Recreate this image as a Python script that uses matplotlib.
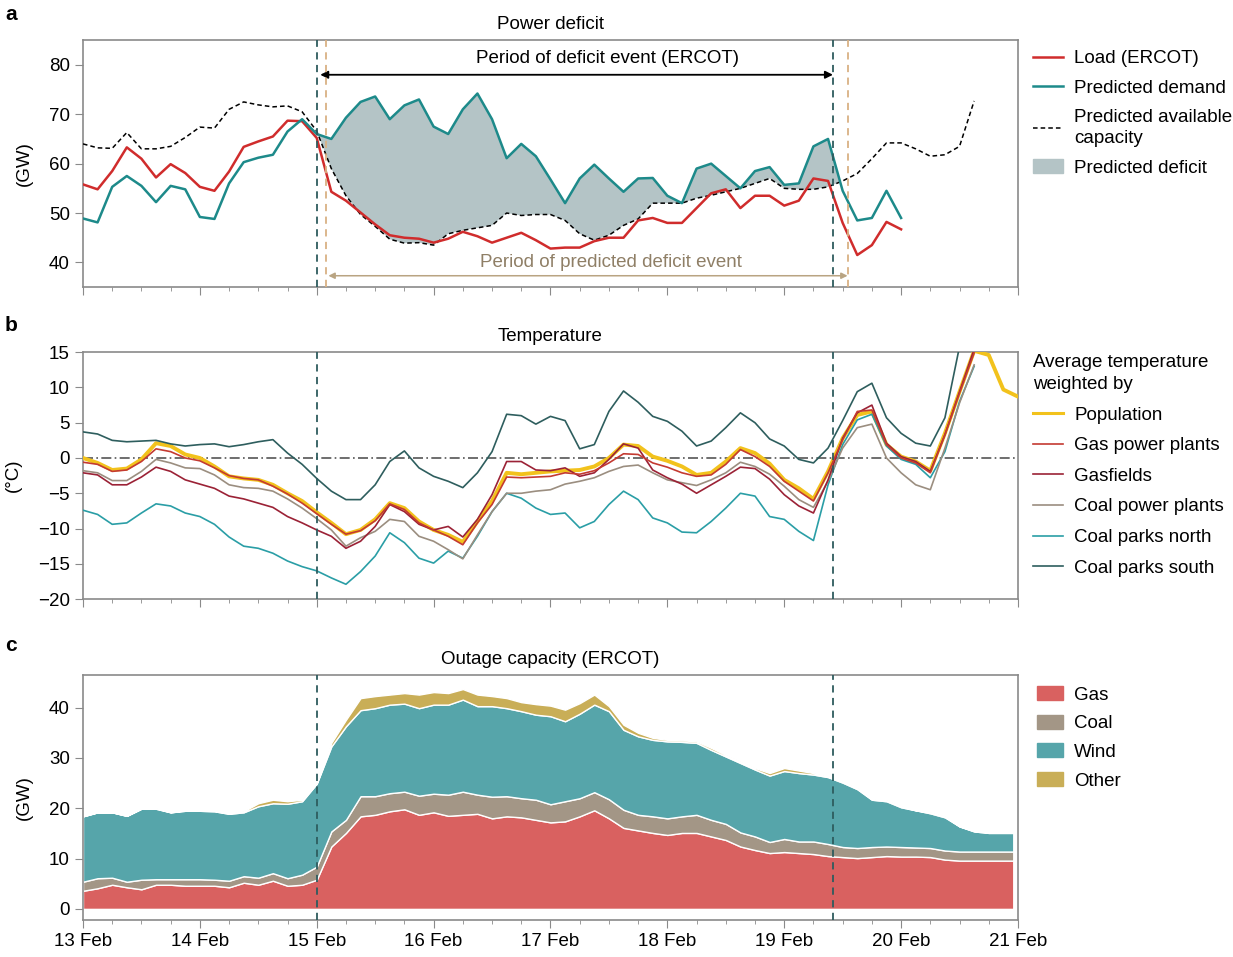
import numpy as np
import matplotlib.pyplot as plt
from matplotlib.lines import Line2D
from matplotlib.patches import Patch

plt.rcParams['font.family'] = ['Liberation Sans', 'DejaVu Sans']
plt.rcParams['font.size'] = 13.5
FS = 13.5

# time axis in days since 13 Feb 00:00, 3-hourly samples
day_labels = ['13 Feb', '14 Feb', '15 Feb', '16 Feb', '17 Feb', '18 Feb', '19 Feb', '20 Feb', '21 Feb']

# ---- panel a: power deficit (GW) ----
load = [55.8, 54.8, 58.5, 63.3, 61.0, 57.2, 59.9, 58.1, 55.3, 54.5,
        58.4, 63.4, 64.5, 65.5, 68.7, 68.6, 65.2, 54.3, 52.5, 50.1,
        47.7, 45.5, 45.0, 44.8, 44.0, 44.8, 46.2, 45.3, 44.0, 45.0,
        46.0, 44.5, 42.8, 43.0, 43.0, 44.3, 45.0, 45.0, 48.5, 49.0,
        48.0, 48.0, 51.0, 54.0, 54.8, 51.0, 53.5, 53.5, 51.5, 52.5,
        57.0, 56.5, 48.0, 41.5, 43.5, 48.2, 46.7]
demand = [48.9, 48.1, 55.3, 57.5, 55.5, 52.2, 55.5, 54.8, 49.2, 48.8,
          56.0, 60.3, 61.2, 61.8, 66.5, 69.0, 66.0, 65.0, 69.3, 72.5,
          73.6, 69.0, 71.8, 73.0, 67.5, 66.0, 71.0, 74.2, 69.0, 61.1,
          64.0, 61.5, 56.8, 52.0, 57.0, 59.8, 57.0, 54.3, 57.0, 57.1,
          53.5, 52.0, 59.0, 60.0, 57.5, 55.0, 58.5, 59.3, 55.7, 56.0,
          63.5, 65.0, 54.5, 48.5, 49.0, 54.5, 49.0]
capacity = [64.0, 63.2, 63.1, 66.3, 63.0, 63.0, 63.5, 65.3, 67.4, 67.2,
            71.0, 72.5, 71.9, 71.5, 71.7, 70.5, 66.6, 59.0, 53.5, 49.7,
            47.3, 44.7, 43.9, 44.0, 43.5, 45.8, 46.5, 47.0, 47.5, 50.0,
            49.5, 49.7, 49.7, 48.5, 45.8, 44.5, 45.5, 47.5, 48.8, 52.0,
            52.0, 52.0, 53.0, 53.6, 54.3, 55.0, 56.0, 57.0, 55.0, 54.8,
            54.8, 55.3, 56.5, 58.0, 61.0, 64.2, 64.2, 63.0, 61.5, 61.8,
            63.5, 72.7]

# event markers (days)
ercot_event = [2.0, 6.417]
pred_event = [2.083, 6.542]

# ---- panel b: temperature (deg C) ----
population = [0.0, -0.7, -1.7, -1.5, -0.2, 2.1, 1.7, 0.5, 0.0, -1.2,
              -2.6, -2.9, -3.1, -3.8, -5.0, -6.1, -7.7, -9.2, -10.8, -10.2,
              -8.7, -6.4, -7.1, -9.0, -10.2, -10.9, -11.9, -9.0, -6.1, -2.1,
              -2.3, -2.1, -1.9, -1.8, -1.7, -1.2, 0.0, 1.9, 1.7, 0.2,
              -0.4, -1.2, -2.4, -2.1, -0.5, 1.4, 0.7, -0.8, -3.1, -4.3,
              -5.8, -1.9, 2.8, 6.1, 6.6, 1.9, 0.2, -0.5, -1.8, 3.5,
              9.4, 15.2, 14.6, 9.7, 8.7]
gas_plants = [-0.6, -0.9, -1.9, -1.7, -0.5, 1.3, 0.9, 0.0, -0.4, -1.4,
              -2.5, -2.9, -3.1, -4.0, -5.1, -6.4, -7.9, -9.4, -10.8, -10.3,
              -8.9, -6.5, -7.3, -9.2, -10.2, -11.1, -12.3, -9.2, -6.6, -2.7,
              -2.8, -2.7, -2.6, -2.1, -2.3, -1.8, -0.7, 0.6, 0.5, -0.7,
              -1.3, -2.1, -2.6, -2.4, -0.9, 1.2, 0.2, -1.2, -3.3, -4.7,
              -6.1, -2.1, 2.6, 6.6, 6.8, 1.9, 0.0, -0.7, -2.1, 3.3,
              9.2, 14.9]
gasfields = [-2.1, -2.4, -3.8, -3.8, -2.7, -1.3, -1.9, -3.1, -3.7, -4.3,
             -5.4, -5.8, -6.4, -7.0, -8.3, -9.2, -10.2, -11.1, -12.8, -11.8,
             -9.7, -6.6, -7.6, -9.4, -10.2, -9.7, -11.2, -8.7, -5.2, -0.5,
             -0.5, -1.7, -1.8, -1.4, -2.6, -2.1, -0.2, 2.0, 1.4, -1.7,
             -2.8, -3.7, -5.0, -3.8, -2.6, -1.3, -1.5, -3.0, -5.2, -6.8,
             -7.8, -3.1, 2.8, 6.4, 7.5, 2.1, 0.2, -0.5, -1.9, 3.3,
             9.4, 15.4]
coal_plants = [-1.8, -2.1, -3.2, -3.2, -1.9, -0.2, -0.7, -1.4, -1.5, -2.4,
               -3.8, -4.2, -4.3, -4.7, -5.8, -7.1, -8.6, -10.2, -12.5, -11.3,
               -10.4, -8.7, -9.0, -11.1, -11.8, -13.0, -14.3, -10.9, -7.6, -5.0,
               -5.0, -4.7, -4.5, -3.7, -3.3, -2.8, -1.9, -1.2, -1.0, -2.1,
               -3.1, -3.5, -3.9, -3.1, -2.1, -0.6, -1.2, -2.3, -4.0, -5.9,
               -7.0, -3.3, 1.4, 4.3, 4.8, 0.0, -2.1, -3.8, -4.5, 1.4,
               7.8, 13.2]
parks_north = [-7.4, -8.0, -9.4, -9.2, -7.8, -6.5, -6.8, -7.8, -8.3, -9.4,
               -11.2, -12.5, -12.8, -13.5, -14.6, -15.4, -16.0, -17.0, -17.9, -16.1,
               -13.9, -10.6, -12.0, -14.2, -14.9, -13.2, -14.2, -11.1, -7.6, -5.0,
               -5.7, -7.1, -8.0, -7.8, -9.9, -9.0, -6.6, -4.7, -5.9, -8.5,
               -9.2, -10.5, -10.6, -9.0, -7.1, -5.0, -5.4, -8.3, -8.7, -10.4,
               -11.7, -3.8, 1.9, 5.4, 6.2, 1.7, -0.2, -0.9, -2.8, 0.9,
               8.0, 13.0]
parks_south = [3.7, 3.4, 2.5, 2.3, 2.4, 2.5, 2.0, 1.7, 1.9, 2.0,
               1.6, 1.9, 2.3, 2.6, 0.7, -0.9, -2.9, -4.7, -5.9, -5.9,
               -3.8, -0.5, 1.0, -1.4, -2.6, -3.3, -4.2, -2.1, 0.9, 6.2,
               6.0, 4.8, 5.9, 5.3, 1.3, 1.9, 6.6, 9.5, 7.9, 5.9,
               5.2, 3.8, 1.7, 2.4, 4.3, 6.4, 5.0, 2.7, 1.7, -0.2,
               -0.7, 1.4, 5.3, 9.4, 10.6, 5.7, 3.5, 2.1, 1.7, 5.7,
               15.8, 19.0]

# ---- panel c: outage capacity (GW), stacked layers ----
out_gas = [3.6, 4.1, 4.8, 4.3, 3.9, 4.8, 4.8, 4.6, 4.6, 4.6,
           4.3, 5.2, 4.8, 5.6, 4.6, 4.8, 5.8, 12.4, 15.1, 18.4,
           18.7, 19.4, 19.8, 18.7, 19.2, 18.5, 18.7, 18.9, 18.0, 18.4,
           18.2, 17.7, 17.2, 17.4, 18.4, 19.6, 18.0, 16.1, 15.6, 15.1,
           14.7, 15.1, 15.1, 14.4, 13.7, 12.4, 11.7, 11.1, 11.3, 11.1,
           10.9, 10.5, 10.3, 10.1, 10.3, 10.5, 10.4, 10.4, 10.3, 9.8,
           9.6, 9.6, 9.6, 9.6, 9.6]
out_coal = [1.8, 2.0, 1.4, 1.1, 1.9, 1.1, 1.1, 1.3, 1.3, 1.2,
            1.3, 1.3, 1.4, 1.5, 1.5, 2.0, 2.6, 3.0, 2.6, 4.0,
            3.7, 3.6, 3.5, 3.8, 3.7, 4.2, 4.6, 3.8, 4.3, 4.0,
            3.8, 4.0, 3.6, 4.0, 3.6, 3.6, 3.8, 3.6, 3.1, 3.3,
            3.3, 3.3, 3.6, 3.3, 3.2, 2.8, 2.7, 2.2, 2.6, 2.3,
            2.5, 2.4, 2.0, 2.0, 2.0, 1.9, 1.9, 1.8, 1.8, 1.8,
            1.8, 1.8, 1.8, 1.8, 1.8]
out_wind = [13.0, 13.1, 13.0, 13.1, 14.1, 14.0, 13.3, 13.6, 13.6, 13.6,
            13.3, 12.7, 14.2, 13.9, 14.8, 14.6, 16.5, 16.9, 18.6, 17.1,
            17.5, 17.6, 17.5, 17.4, 17.7, 17.9, 18.3, 17.6, 18.0, 17.5,
            17.3, 16.9, 17.5, 15.9, 16.8, 17.4, 17.5, 15.9, 15.6, 15.2,
            15.3, 14.8, 14.3, 13.9, 13.4, 13.8, 13.3, 13.2, 13.5, 13.6,
            13.3, 13.3, 12.8, 11.7, 9.4, 9.0, 7.9, 7.4, 6.9, 6.6,
            5.0, 4.0, 3.7, 3.7, 3.7]
out_other = [0.0, 0.0, 0.0, 0.0, 0.1, 0.1, 0.0, 0.1, 0.0, 0.1,
             0.1, 0.2, 0.6, 0.7, 0.5, 0.3, 0.1, 0.7, 1.3, 2.4,
             2.4, 2.0, 2.1, 2.7, 2.5, 2.3, 2.1, 2.3, 2.0, 2.0,
             1.8, 2.1, 2.1, 2.3, 2.1, 2.0, 1.0, 1.0, 0.7, 0.4,
             0.3, 0.3, 0.3, 0.4, 0.3, 0.3, 0.3, 0.5, 0.6, 0.5,
             0.3, 0.1, 0.2, 0.2, 0.1, 0.2, 0.2, 0.0, 0.2, 0.2,
             0.0, 0.1, 0.1, 0.1, 0.1]

step = 0.125
t_a = np.arange(len(demand)) * step
t_cap = np.arange(len(capacity)) * step
t_pop = np.arange(len(population)) * step
t_b = np.arange(len(gas_plants)) * step
t_c = np.append(np.arange(len(out_gas) - 1) * step, 7.96)

c_event = '#2e5c5e'
c_pred = '#d9b184'
spine_c = '#8a8a8a'

fig = plt.figure(figsize=(12.33, 9.57), dpi=100)
ax_a = fig.add_axes([0.0673, 0.700, 0.7583, 0.258])
ax_b = fig.add_axes([0.0673, 0.374, 0.7583, 0.258])
ax_c = fig.add_axes([0.0673, 0.0387, 0.7583, 0.256])

for ax in (ax_a, ax_b, ax_c):
    ax.set_xlim(0, 8)
    ax.set_xticks(np.arange(9))
    ax.set_xticks(np.arange(0, 8.01, 0.25), minor=True)
    ax.tick_params(which='major', length=6, color=spine_c, labelsize=FS)
    ax.tick_params(which='minor', length=3, color=spine_c)
    for s in ax.spines.values():
        s.set_color(spine_c)
        s.set_linewidth(1.2)
    for d in ercot_event:
        ax.axvline(d, color=c_event, ls=(0, (4, 3)), lw=1.3, zorder=5)
ax_a.set_xticklabels([])
ax_b.set_xticklabels([])
ax_c.set_xticklabels(day_labels)

# panel a
dem = np.array(demand)
cap = np.array(capacity)
ax_a.fill_between(t_a, cap[:len(dem)], dem, where=dem > cap[:len(dem)],
                  interpolate=True, color='#b4c4c6', lw=0, zorder=1)
ax_a.plot(t_cap, cap, color='black', ls=(0, (3, 2)), lw=1.1, zorder=3)
ax_a.plot(t_a, load, color='#d02c2c', lw=1.8, zorder=4)
ax_a.plot(t_a, dem, color='#1d8a8a', lw=1.8, zorder=4)
for d in pred_event:
    ax_a.axvline(d, color=c_pred, ls=(0, (4, 3)), lw=1.3, zorder=5)
ax_a.set_ylim(35, 85)
ax_a.set_yticks([40, 50, 60, 70, 80])
ax_a.set_ylabel('(GW)', fontsize=FS)
ax_a.yaxis.set_label_coords(-0.0535, 0.5)
ax_a.set_title('Power deficit', fontsize=FS, pad=8)
ax_a.annotate('', xy=(ercot_event[1], 78), xytext=(2.03, 78),
              arrowprops=dict(arrowstyle='<|-|>', color='black', lw=1.3,
                              mutation_scale=11, shrinkA=0, shrinkB=0))
ax_a.text(4.49, 81.2, 'Period of deficit event (ERCOT)', ha='center', va='center', fontsize=FS)
ax_a.annotate('', xy=(pred_event[1], 37.3), xytext=(2.1, 37.3),
              arrowprops=dict(arrowstyle='<|-|>', color='#b9a482', lw=1.1,
                              mutation_scale=9, shrinkA=0, shrinkB=0))
ax_a.text(4.52, 40.0, 'Period of predicted deficit event', ha='center', va='center',
          fontsize=FS, color='#8f7f66')
h_a = [Line2D([], [], color='#d02c2c', lw=1.8),
       Line2D([], [], color='#1d8a8a', lw=1.8),
       Line2D([], [], color='black', ls=(0, (3, 2)), lw=1.1),
       Patch(color='#b4c4c6')]
leg_a = ax_a.legend(h_a, ['Load (ERCOT)', 'Predicted demand', 'Predicted available\ncapacity',
                          'Predicted deficit'],
                    loc='upper left', bbox_to_anchor=(1.008, 0.99), frameon=False, fontsize=FS,
                    handlelength=1.6, handletextpad=0.6, labelspacing=0.66, borderaxespad=0)
for txt in leg_a.get_texts():
    txt.set_linespacing(1.3)

# panel b
ax_b.axhline(0, color='#555555', ls=(0, (6, 2, 1, 2)), lw=1.2, zorder=1)
b_series = [(parks_south, '#2e5e5e', 'Coal parks south'),
            (parks_north, '#2a9ea6', 'Coal parks north'),
            (coal_plants, '#9b8e80', 'Coal power plants'),
            (gasfields, '#9b2236', 'Gasfields'),
            (gas_plants, '#c43a31', 'Gas power plants')]
ax_b.plot(t_pop, population, color='#f2c21c', lw=2.8, zorder=3)
for vals, col, lab in b_series:
    ax_b.plot(t_b, vals, color=col, lw=1.2, zorder=4 if lab == 'Gas power plants' else 3)
ax_b.set_ylim(-20, 15)
ax_b.set_yticks([-20, -15, -10, -5, 0, 5, 10, 15])
ax_b.set_ylabel('(°C)', fontsize=FS)
ax_b.yaxis.set_label_coords(-0.065, 0.5)
ax_b.set_title('Temperature', fontsize=FS, pad=8)
h_b = [Line2D([], [], color='#f2c21c', lw=2.2)]
lab_b = ['Population']
for vals, col, lab in b_series[::-1]:
    h_b.append(Line2D([], [], color=col, lw=1.2))
    lab_b.append(lab)
leg_b = ax_b.legend(h_b, lab_b, title='Average temperature\nweighted by', title_fontsize=FS,
                    alignment='left', loc='upper left', bbox_to_anchor=(1.008, 1.024),
                    frameon=False, fontsize=FS, handlelength=1.6, handletextpad=0.6,
                    labelspacing=0.72, borderaxespad=0)
leg_b.get_title().set_linespacing(1.4)

# panel c
c_cols = ['#d96160', '#a39686', '#56a5aa', '#c9ae57']
ax_c.stackplot(t_c, out_gas, out_coal, out_wind, out_other, colors=c_cols,
               edgecolor='white', linewidth=1.0, zorder=2)
ax_c.set_ylim(-2.2, 46.5)
ax_c.set_yticks([0, 10, 20, 30, 40])
ax_c.set_ylabel('(GW)', fontsize=FS)
ax_c.yaxis.set_label_coords(-0.0535, 0.5)
ax_c.set_title('Outage capacity (ERCOT)', fontsize=FS, pad=8)
h_c = [Patch(color=c) for c in c_cols]
ax_c.legend(h_c, ['Gas', 'Coal', 'Wind', 'Other'], loc='upper left',
            bbox_to_anchor=(1.012, 0.985), frameon=False, fontsize=FS,
            handlelength=1.4, handleheight=0.75, handletextpad=0.6, labelspacing=0.6,
            borderaxespad=0)

for lab, y in (('a', 0.985), ('b', 0.66), ('c', 0.325)):
    fig.text(0.004, y, lab, fontsize=15, fontweight='bold', va='center')

fig.savefig('out.png', dpi=100)
